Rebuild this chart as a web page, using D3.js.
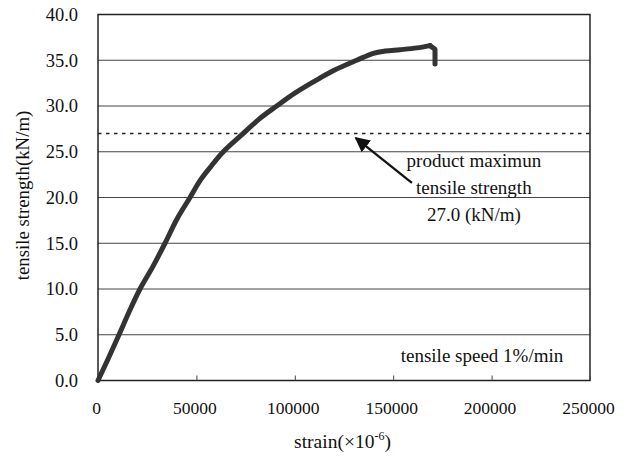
<!DOCTYPE html>
<html><head><meta charset="utf-8">
<script src="https://cdn.jsdelivr.net/npm/d3@7"></script>
<style>body{margin:0;background:#fff}svg{display:block}svg text{font-family:"Liberation Serif","DejaVu Serif",serif !important;fill:#111}</style>
</head><body>
<script>
const strain = [0, 5000, 10670, 16000, 21340, 28000, 34045, 40000, 46750, 52000, 57770, 63670, 73830, 82000, 90800, 100000, 110000, 120000, 131450, 139900, 146000, 153460, 162000, 168700, 171240, 171240];
const strength = [0, 2.3, 5.0, 7.6, 10.0, 12.5, 15.0, 17.6, 20.0, 21.9, 23.5, 25.0, 27.0, 28.6, 30.0, 31.4, 32.7, 33.9, 35.0, 35.75, 36.0, 36.15, 36.35, 36.6, 36.2, 34.6];
const xTicks = [0, 50000, 100000, 150000, 200000, 250000];
const yTicks = [0, 5, 10, 15, 20, 25, 30, 35, 40];
const maxStrength = 27.0;

const W = 631, H = 457;
const m = {l: 98, r: 41, t: 14.5, b: 76.5};
const svg = d3.select("body").append("svg").attr("width", W).attr("height", H);
const x = d3.scaleLinear().domain([0, 250000]).range([m.l, W - m.r]);
const y = d3.scaleLinear().domain([0, 40]).range([H - m.b, m.t]);
const FF = "Liberation Serif, DejaVu Serif, serif";

svg.append("g").selectAll("line").data(yTicks.slice(1, -1)).join("line")
  .attr("x1", x(0)).attr("x2", x(250000)).attr("y1", d => y(d)).attr("y2", d => y(d))
  .attr("stroke", "#444").attr("stroke-width", 1);

svg.append("rect").attr("x", x(0)).attr("y", y(40)).attr("width", x(250000) - x(0)).attr("height", y(0) - y(40))
  .attr("fill", "none").attr("stroke", "#222").attr("stroke-width", 1.5);

const xa = d3.axisBottom(x).tickValues(xTicks).tickSize(-5).tickPadding(21).tickFormat(d3.format("d"));
const gx = svg.append("g").attr("transform", `translate(0,${y(0)})`).call(xa).attr("font-family", FF);
gx.select(".domain").remove();
gx.selectAll(".tick line").attr("stroke", "#444");
gx.selectAll("text").attr("font-size", 17.5).attr("fill", "#111").attr("dx", -2);

const ya = d3.axisLeft(y).tickValues(yTicks).tickSize(0).tickPadding(20).tickFormat(d3.format(".1f"));
const gy = svg.append("g").attr("transform", `translate(${x(0)},0)`).call(ya).attr("font-family", FF);
gy.select(".domain").remove();
gy.selectAll("text").attr("font-size", 18.5).attr("fill", "#111");

svg.append("line").attr("x1", x(0)).attr("x2", x(250000)).attr("y1", y(maxStrength)).attr("y2", y(maxStrength))
  .attr("stroke", "#222").attr("stroke-width", 1.5).attr("stroke-dasharray", "3.5,4.5");

const pts = strain.map((s, i) => [s, strength[i]]);
const peak = d3.maxIndex(strength);
const lineStyle = p => p.attr("fill", "none").attr("stroke", "#333").attr("stroke-width", 5)
  .attr("stroke-linejoin", "round").attr("stroke-linecap", "round");
svg.append("path").datum(pts.slice(0, peak + 1))
  .attr("d", d3.line().x(d => x(d[0])).y(d => y(d[1])).curve(d3.curveCatmullRom.alpha(0.5))).call(lineStyle);
svg.append("path").datum(pts.slice(peak))
  .attr("d", d3.line().x(d => x(d[0])).y(d => y(d[1]))).call(lineStyle);

const defs = svg.append("defs");
defs.append("marker").attr("id", "ah").attr("viewBox", "0 0 10 10").attr("refX", 9).attr("refY", 5)
  .attr("markerWidth", 6.5).attr("markerHeight", 6.5).attr("markerUnits", "strokeWidth").attr("orient", "auto")
  .append("path").attr("d", "M0,0 L10,5 L0,10 z").attr("fill", "#111");
svg.append("line").attr("x1", x(159500)).attr("y1", y(21.6)).attr("x2", x(131000)).attr("y2", y(26.5))
  .attr("stroke", "#111").attr("stroke-width", 2.3).attr("marker-end", "url(#ah)");

const ann = ["product maximun", "tensile strength", "27.0 (kN/m)"];
svg.append("g").selectAll("text").data(ann).join("text")
  .attr("x", x(191000)).attr("y", (d, i) => 166.5 + i * 27)
  .attr("text-anchor", "middle").attr("font-size", 19).attr("font-family", FF).text(d => d);

svg.append("text").attr("x", 482).attr("y", 361.5).attr("text-anchor", "middle")
  .attr("font-size", 19).attr("font-family", FF).text("tensile speed 1%/min");

const xt = svg.append("text").attr("x", 342.5).attr("y", 448).attr("text-anchor", "middle").attr("font-size", 19.5).attr("font-family", FF);
xt.append("tspan").text("strain(×10");
xt.append("tspan").attr("dy", -8).attr("font-size", 12).text("-6");
xt.append("tspan").attr("dy", 8).text(")");

svg.append("text").attr("transform", `translate(29,195.5) rotate(-90)`).attr("text-anchor", "middle")
  .attr("font-size", 18.8).attr("font-family", FF).text("tensile strength(kN/m)");
</script>
</body></html>
